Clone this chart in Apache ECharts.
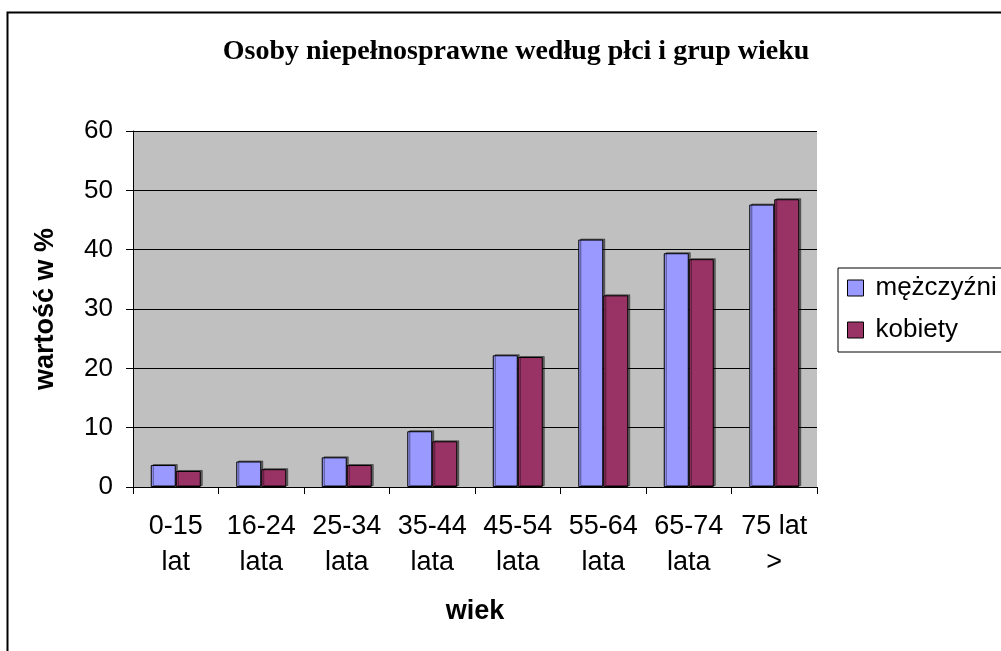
<!DOCTYPE html>
<html>
<head>
<meta charset="utf-8">
<script src="https://cdn.jsdelivr.net/npm/echarts@6/dist/echarts.min.js"></script>
<style>
html,body{margin:0;padding:0;background:#fff;}
#chart{width:1001px;height:651px;}
</style>
</head>
<body>
<div id="chart"></div>
<script>
const categories = ['0-15\nlat', '16-24\nlata', '25-34\nlata', '35-44\nlata', '45-54\nlata', '55-64\nlata', '65-74\nlata', '75 lat\n>'];
const men = [3.7, 4.3, 5.0, 9.4, 22.2, 41.7, 39.4, 47.6];
const women = [2.7, 3.0, 3.7, 7.7, 21.9, 32.3, 38.4, 48.5];
const seriesNames = ['mężczyźni', 'kobiety'];
const yTicks = { min: 0, max: 60, interval: 10 };

const chart = echarts.init(document.getElementById('chart'), null, { renderer: 'canvas' });
const barStyle = (color) => ({
  color: color,
  borderColor: '#000',
  borderWidth: 1,
  shadowColor: 'rgba(0,0,0,0.45)',
  shadowBlur: 0,
  shadowOffsetX: 2,
  shadowOffsetY: -1
});
chart.setOption({
  animation: false,
  backgroundColor: '#fff',
  graphic: [{
    type: 'rect',
    shape: { x: 7.5, y: 12.5, width: 1100, height: 700 },
    style: { fill: 'none', stroke: '#000', lineWidth: 2 },
    silent: true
  }],
  title: {
    text: 'Osoby niepełnosprawne według płci i grup wieku',
    left: 511,
    top: 33,
    textAlign: 'center',
    textStyle: { fontFamily: 'Liberation Serif', fontWeight: 'bold', fontSize: 28, color: '#000' }
  },
  legend: {
    orient: 'vertical',
    left: 838,
    top: 268,
    data: seriesNames,
    itemWidth: 16,
    itemHeight: 16,
    itemGap: 16,
    padding: [7, 80, 9, 9],
    borderColor: '#000',
    borderWidth: 1,
    icon: 'rect',
    itemStyle: { borderColor: '#000', borderWidth: 1, shadowBlur: 0, shadowOffsetX: 0, shadowOffsetY: 0 },
    textStyle: { fontFamily: 'Liberation Sans', fontSize: 26, color: '#000', padding: [0, 0, 0, 7] }
  },
  grid: { left: 133, right: 184, top: 131, bottom: 164, show: true, backgroundColor: '#c0c0c0', borderWidth: 0 },
  xAxis: {
    type: 'category',
    data: categories,
    name: 'wiek',
    nameLocation: 'middle',
    nameGap: 111,
    nameTextStyle: { fontFamily: 'Liberation Sans', fontWeight: 'bold', fontSize: 27, color: '#000' },
    axisLine: { lineStyle: { color: '#000', width: 1 } },
    axisTick: { show: true, length: 7, lineStyle: { color: '#000' } },
    axisLabel: { fontFamily: 'Liberation Sans', fontSize: 27, color: '#000', lineHeight: 36, margin: 22, interval: 0 }
  },
  yAxis: {
    type: 'value',
    min: yTicks.min,
    max: yTicks.max,
    interval: yTicks.interval,
    name: 'wartość w %',
    nameLocation: 'middle',
    nameGap: 74,
    nameRotate: 90,
    nameTextStyle: { fontFamily: 'Liberation Sans', fontWeight: 'bold', fontSize: 27, color: '#000' },
    axisLine: { show: true, lineStyle: { color: '#000', width: 1 } },
    axisTick: { show: true, length: 7, lineStyle: { color: '#000' } },
    axisLabel: { fontFamily: 'Liberation Sans', fontSize: 26, color: '#000', margin: 20 },
    splitLine: { show: true, lineStyle: { color: '#000', width: 1 } }
  },
  series: [
    { name: seriesNames[0], type: 'bar', data: men, barWidth: 25, barGap: '0%', itemStyle: barStyle('#9999ff') },
    { name: seriesNames[1], type: 'bar', data: women, barWidth: 25, barGap: '0%', itemStyle: barStyle('#993366') }
  ]
});
</script>
</body>
</html>
